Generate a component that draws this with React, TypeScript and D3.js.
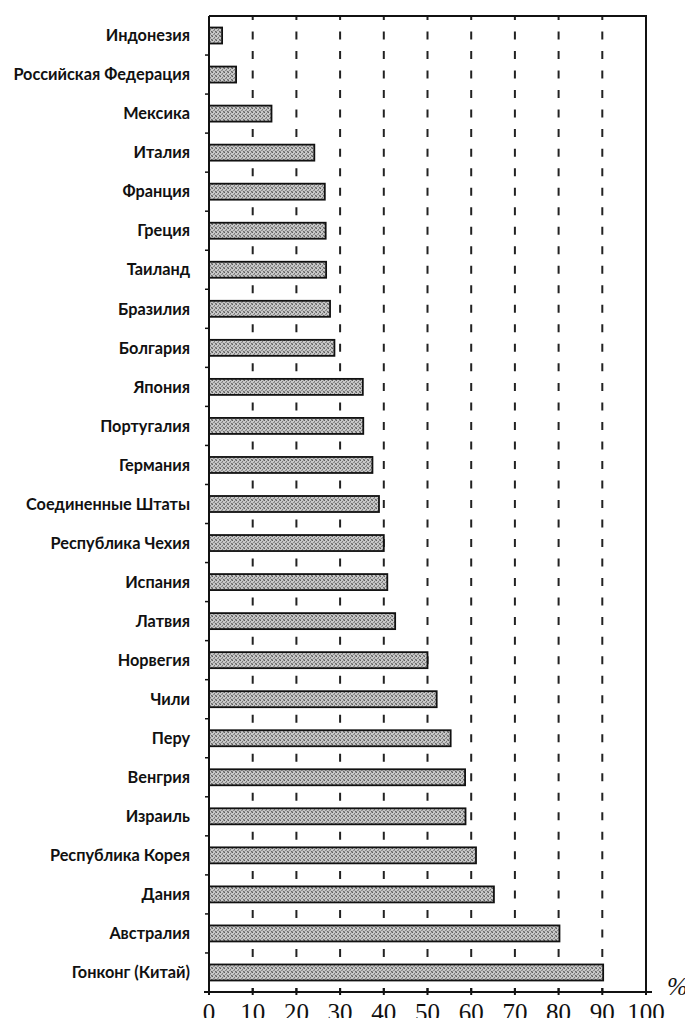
import React from "react";
import * as d3 from "d3";

const countries = [
  "Индонезия",
  "Российская Федерация",
  "Мексика",
  "Италия",
  "Франция",
  "Греция",
  "Таиланд",
  "Бразилия",
  "Болгария",
  "Япония",
  "Португалия",
  "Германия",
  "Соединенные Штаты",
  "Республика Чехия",
  "Испания",
  "Латвия",
  "Норвегия",
  "Чили",
  "Перу",
  "Венгрия",
  "Израиль",
  "Республика Корея",
  "Дания",
  "Австралия",
  "Гонконг (Китай)",
];

const values = [
  3.0, 6.2, 14.3, 24.1, 26.5, 26.7, 26.8, 27.7, 28.7, 35.2, 35.3, 37.4, 38.9,
  40.0, 40.8, 42.6, 50.0, 52.1, 55.3, 58.6, 58.7, 61.1, 65.2, 80.2, 90.2,
];

const tickValues = [0, 10, 20, 30, 40, 50, 60, 70, 80, 90, 100];
const gridValues = [10, 20, 30, 40, 50, 60, 70, 80, 90];
const unitLabel = "%";

export default function App() {
  const W = 693;
  const H = 1026;
  const left = 209;
  const right = 646;
  const top = 16;
  const bottom = 992;

  const x = d3.scaleLinear().domain([0, 100]).range([left, right]);
  const y = d3
    .scaleBand<string>()
    .domain(countries)
    .range([top, bottom])
    .paddingInner(0.59)
    .paddingOuter(0.295);

  const step = y.step();
  const bw = y.bandwidth();
  const boundaries = d3.range(countries.length + 1).map((i) => top + i * step);

  return (
    <div style={{ margin: -8 }}>
      <svg width={W} height={H} style={{ display: "block", background: "#fff" }}>
        <defs>
          <pattern id="stip" width="4" height="4" patternUnits="userSpaceOnUse">
            <rect width="4" height="4" fill="#c8c8c8" />
            <rect x="0" y="0" width="1" height="1" fill="#5e5e5e" />
            <rect x="2" y="1" width="1" height="1" fill="#7a7a7a" />
            <rect x="3" y="3" width="1" height="1" fill="#6a6a6a" />
            <rect x="1" y="2" width="1" height="1" fill="#8a8a8a" />
            <rect x="3" y="0" width="1" height="1" fill="#999" />
            <rect x="0" y="3" width="1" height="1" fill="#909090" />
            <rect x="2" y="2" width="1" height="1" fill="#a0a0a0" />
          </pattern>
        </defs>

        {/* dashed gridlines */}
        {gridValues.map((v) => (
          <line
            key={"g" + v}
            x1={x(v)}
            x2={x(v)}
            y1={top}
            y2={bottom}
            stroke="#222"
            strokeWidth={2}
            strokeDasharray={`8 ${step / 2 - 8}`}
            strokeDashoffset={4}
          />
        ))}

        {/* frame top and right */}
        <line x1={left} x2={right + 1} y1={top} y2={top} stroke="#111" strokeWidth={2} />
        <line x1={right} x2={right} y1={top} y2={bottom} stroke="#111" strokeWidth={2} />

        {/* bars */}
        {countries.map((c, i) => (
          <rect
            key={c}
            x={x(0)}
            y={y(c)!}
            width={x(values[i]) - x(0)}
            height={bw}
            fill="url(#stip)"
            stroke="#111"
            strokeWidth={1.8}
          />
        ))}

        {/* left axis */}
        <line x1={left} x2={left} y1={top} y2={bottom} stroke="#111" strokeWidth={2} />
        {boundaries.slice(1, -1).map((b, i) => (
          <line key={"lt" + i} x1={left - 4} x2={left} y1={b} y2={b} stroke="#111" strokeWidth={1.5} />
        ))}

        {/* bottom axis */}
        <line x1={left - 5} x2={right + 6} y1={bottom} y2={bottom} stroke="#111" strokeWidth={2} />
        {tickValues.map((v) => (
          <line key={"t" + v} x1={x(v)} x2={x(v)} y1={bottom - 4} y2={bottom + 3} stroke="#111" strokeWidth={2} />
        ))}
        {tickValues.map((v) => (
          <text
            key={"tl" + v}
            x={x(v)}
            y={1021}
            textAnchor="middle"
            fontFamily="'Liberation Serif', 'DejaVu Serif', serif"
            fontSize={25}
            fill="#111"
          >
            {v}
          </text>
        ))}
        <text
          x={667}
          y={995}
          fontFamily="'Liberation Serif', serif"
          fontStyle="italic"
          fontSize={25}
          fill="#111"
        >
          {unitLabel}
        </text>

        {/* category labels */}
        {countries.map((c) => (
          <text
            key={"l" + c}
            x={190}
            y={y(c)! + bw / 2}
            dy="0.35em"
            textAnchor="end"
            fontFamily="Lato, 'Open Sans', sans-serif"
            fontWeight={700}
            fontSize={16.3}
            fill="#111"
          >
            {c}
          </text>
        ))}
      </svg>
    </div>
  );
}
